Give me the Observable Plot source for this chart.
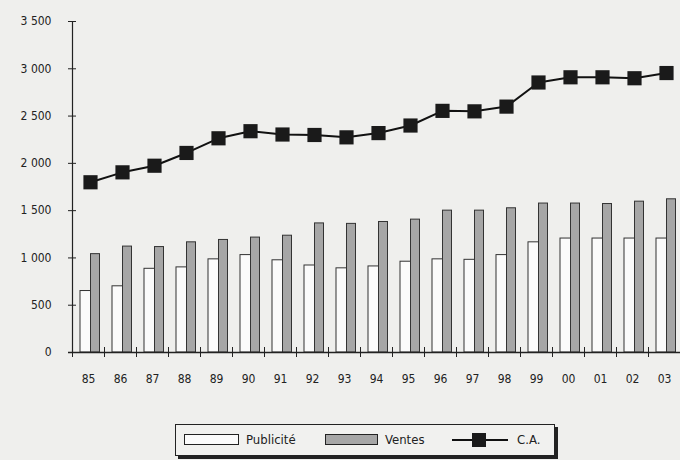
<!DOCTYPE html>
<html>
<head>
<meta charset="utf-8">
<script src="https://cdn.jsdelivr.net/npm/d3@7"></script>
<script src="https://cdn.jsdelivr.net/npm/@observablehq/plot@0.6"></script>
<style>
  html, body { margin: 0; padding: 0; background: #efefed; }
  body { font-family: "DejaVu Sans Condensed", "Liberation Sans Narrow", "Liberation Sans", sans-serif; font-stretch: condensed; color: #222; }
  #wrap { position: relative; width: 680px; height: 460px; overflow: hidden; }
  #legend { position: absolute; left: 175px; top: 424px; width: 378px; height: 30px;
            border: 1px solid #222; box-shadow: 3px 3px 0 #222; background: #f1f1ef; }
  .sw { position: absolute; top: 9px; height: 9px; border: 1.5px solid #222; }
  .lt { position: absolute; top: 7px; font-size: 13px; line-height: 15px; }
</style>
</head>
<body>
<div id="wrap">
  <div id="chart"></div>
  <div id="legend">
    <div class="sw" style="left:8px;width:53px;background:#fbfbfb"></div>
    <div class="lt" style="left:70px">Publicité</div>
    <div class="sw" style="left:149px;width:51px;background:#a6a6a6"></div>
    <div class="lt" style="left:209px">Ventes</div>
    <svg style="position:absolute;left:276px;top:6px" width="56" height="18">
      <line x1="0" y1="9" x2="56" y2="9" stroke="#111" stroke-width="2"></line>
      <rect x="20" y="2" width="14" height="14" fill="#1a1a1a"></rect>
    </svg>
    <div class="lt" style="left:341px">C.A.</div>
  </div>
</div>
<script>
const years = ["85","86","87","88","89","90","91","92","93","94","95","96","97","98","99","00","01","02","03"];
const publicite = [650,700,885,900,985,1030,975,920,890,910,960,985,980,1030,1165,1205,1205,1205,1205];
const ventes = [1040,1120,1115,1165,1190,1215,1235,1365,1360,1380,1405,1500,1500,1525,1575,1575,1570,1595,1620];
const ca = [1800,1905,1975,2110,2265,2340,2305,2300,2275,2320,2400,2555,2550,2600,2855,2910,2910,2900,2955];
const yTicks = [0,500,1000,1500,2000,2500,3000,3500];

const data = years.map((y, i) => ({year: y, pub: publicite[i], ventes: ventes[i], ca: ca[i]}));
const fmt = d3.formatLocale({thousands: "\u00a0", grouping: [3], decimal: ","}).format(",");

const chart = Plot.plot({
  width: 680,
  height: 400,
  marginLeft: 72,
  marginRight: 0,
  marginTop: 21,
  marginBottom: 48,
  style: {background: "transparent", fontFamily: "'DejaVu Sans Condensed', 'Liberation Sans Narrow', sans-serif", fontStretch: "condensed", fontSize: "12px", color: "#222"},
  x: {domain: years, padding: 0, axis: null, label: null},
  y: {domain: [0, 3500], axis: null, label: null},
  marks: [
    Plot.barY(data, {x: "year", y: "pub", insetLeft: 8, insetRight: 13.5, fill: "#fbfbfb", stroke: "#333", strokeWidth: 1}),
    Plot.barY(data, {x: "year", y: "ventes", insetLeft: 18.5, insetRight: 4.5, fill: "#a6a6a6", stroke: "#333", strokeWidth: 1}),
    Plot.frame({anchor: "left", stroke: "#222", strokeWidth: 1.2}),
    Plot.ruleY([0], {stroke: "#222", strokeWidth: 1.5, insetLeft: -4}),
    Plot.axisY({ticks: yTicks, tickSize: 0, tickPadding: 21, tickFormat: fmt, fontSize: 12, label: null}),
    Plot.axisY({ticks: yTicks, tickSize: 8, dx: 4, tickFormat: () => "", stroke: "#222", label: null}),
    Plot.axisX({tickSize: 0, tickPadding: 22, fontSize: 12, label: null}),
    Plot.axisX({tickSize: 10, dx: -16, dy: -5, tickFormat: () => "", stroke: "#222", label: null}),
    Plot.line(data, {x: "year", y: "ca", stroke: "#111", strokeWidth: 2, dx: 2}),
    Plot.dot(data, {x: "year", y: "ca", symbol: "square", r: 8, fill: "#1a1a1a", stroke: "none", dx: 2})
  ]
});
document.getElementById("chart").appendChild(chart);
</script>
</body>
</html>
